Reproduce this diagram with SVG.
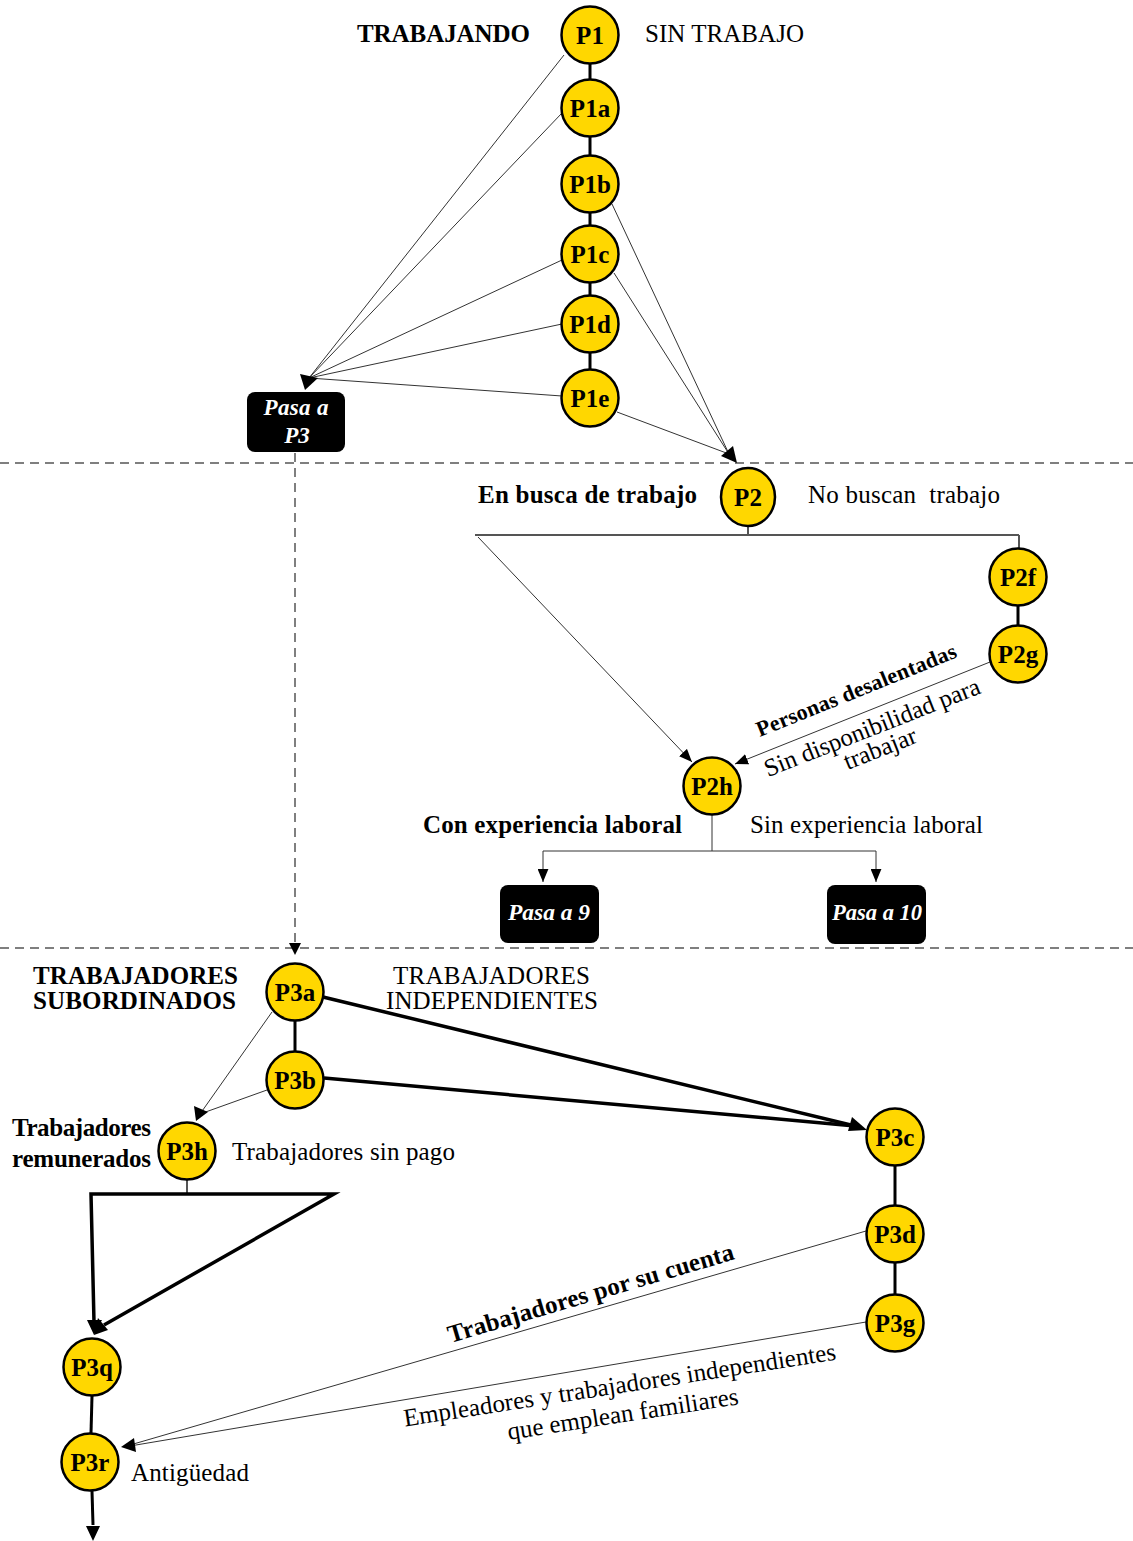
<svg xmlns="http://www.w3.org/2000/svg" width="1133" height="1541" viewBox="0 0 1133 1541">
<style>
text{font-family:"Liberation Serif","Times New Roman",serif;fill:#000}
.n circle,.n ellipse{fill:#FFD700;stroke:#000;stroke-width:2.5}
.n text{font-size:25px;font-weight:bold;text-anchor:middle}
.b{font-weight:bold}
.t{font-size:25px}
.box rect{fill:#000}
.box text{fill:#fff;font-size:23px;font-weight:bold;font-style:italic;text-anchor:middle}
.thin{stroke:#333;stroke-width:1;fill:none}
.gray{stroke:#555;stroke-width:2;fill:none}
.chain{stroke:#000;stroke-width:3;fill:none}
.thick{stroke:#000;stroke-width:3.5;fill:none}
.dash{stroke:#555;stroke-width:1.5;stroke-dasharray:9 6;fill:none}
.ah{fill:#000}
</style>
<defs>
<marker id="arr" viewBox="0 0 12 10" refX="12" refY="5" markerWidth="13" markerHeight="11" markerUnits="userSpaceOnUse" orient="auto"><path d="M0,0 L12,5 L0,10 z" fill="#000"/></marker>
</defs>

<g id="connectors">
<line class="dash" x1="0" y1="463" x2="1133" y2="463"/>
<line class="dash" x1="0" y1="948" x2="1133" y2="948"/>
<line class="chain" x1="590" y1="64" x2="590" y2="80"/>
<line class="chain" x1="590" y1="137" x2="590" y2="156"/>
<line class="chain" x1="590" y1="213" x2="590" y2="226"/>
<line class="chain" x1="590" y1="283" x2="590" y2="296"/>
<line class="chain" x1="590" y1="353" x2="590" y2="370"/>
<line class="thin" x1="564" y1="55" x2="309" y2="378"/>
<line class="thin" x1="562" y1="113" x2="309" y2="378"/>
<line class="thin" x1="562" y1="260" x2="309" y2="378"/>
<line class="thin" x1="562" y1="324" x2="309" y2="378"/>
<line class="thin" x1="562" y1="396" x2="309" y2="378"/>
<polygon class="ah" points="305,390 300,374 318,378"/>
<line class="thin" x1="612" y1="204" x2="729" y2="454"/>
<line class="thin" x1="614" y1="273" x2="729" y2="454"/>
<line class="thin" x1="617" y1="412" x2="729" y2="454"/>
<polygon class="ah" points="737,463 721,456 733,446"/>
<line class="dash" x1="295" y1="453" x2="295" y2="945"/>
<polygon class="ah" points="295,955 289,943 301,943"/>
<line class="gray" x1="748" y1="526" x2="748" y2="535"/>
<line class="gray" x1="475" y1="535" x2="1019" y2="535"/>
<line class="gray" x1="1019" y1="535" x2="1019" y2="548"/>
<line class="thin" x1="478" y1="537" x2="692" y2="762" marker-end="url(#arr)"/>
<line class="chain" x1="1018" y1="606" x2="1018" y2="625"/>
<line class="thin" x1="990" y1="662" x2="735" y2="764" marker-end="url(#arr)"/>
<line class="thin" x1="712" y1="815" x2="712" y2="851"/>
<line class="thin" x1="543" y1="851" x2="876" y2="851"/>
<line class="thin" x1="543" y1="851" x2="543" y2="882" marker-end="url(#arr)"/>
<line class="thin" x1="876" y1="851" x2="876" y2="882" marker-end="url(#arr)"/>
<line class="chain" x1="295" y1="1021" x2="295" y2="1051"/>
<line class="thin" x1="272" y1="1012" x2="200" y2="1114"/>
<line class="thin" x1="267" y1="1090" x2="200" y2="1114"/>
<polygon class="ah" points="196,1121 194,1106 208,1112"/>
<line class="thick" x1="323" y1="997" x2="855" y2="1126"/>
<line class="thick" x1="324" y1="1078" x2="855" y2="1126"/>
<polygon class="ah" points="867,1130 848,1131 852,1117"/>
<line class="chain" x1="895" y1="1166" x2="895" y2="1205"/>
<line class="chain" x1="895" y1="1263" x2="895" y2="1294"/>
<line class="gray" x1="187" y1="1180" x2="187" y2="1194"/>
<polyline class="thick" points="94,1322 91,1194 334,1194 104,1325"/>
<polygon class="ah" points="94,1335 87,1320 102,1320"/>
<polygon class="ah" points="94,1335 98,1318 108,1330"/>
<line class="chain" x1="92" y1="1396" x2="91" y2="1433"/>
<line class="chain" x1="92" y1="1491" x2="93" y2="1525"/>
<polygon class="ah" points="93,1541 86,1526 100,1526"/>
<line class="thin" x1="866" y1="1231" x2="130" y2="1445"/>
<line class="thin" x1="866" y1="1322" x2="130" y2="1446"/>
<polygon class="ah" points="121,1447 134,1438 136,1452"/>
</g>

<g id="P1" class="n"><circle cx="590" cy="35" r="28.5"/><text x="590" y="44">P1</text></g>
<g id="P1a" class="n"><circle cx="590" cy="108" r="28.5"/><text x="590" y="117">P1a</text></g>
<g id="P1b" class="n"><circle cx="590" cy="184" r="28.5"/><text x="590" y="193">P1b</text></g>
<g id="P1c" class="n"><circle cx="590" cy="254" r="28.5"/><text x="590" y="263">P1c</text></g>
<g id="P1d" class="n"><circle cx="590" cy="324" r="28.5"/><text x="590" y="333">P1d</text></g>
<g id="P1e" class="n"><circle cx="590" cy="398" r="28.5"/><text x="590" y="407">P1e</text></g>
<g id="P2" class="n"><ellipse cx="748" cy="497" rx="27" ry="29"/><text x="748" y="506">P2</text></g>
<g id="P2f" class="n"><circle cx="1018" cy="577" r="28.5"/><text x="1018" y="586">P2f</text></g>
<g id="P2g" class="n"><circle cx="1018" cy="654" r="28.5"/><text x="1018" y="663">P2g</text></g>
<g id="P2h" class="n"><circle cx="712" cy="786" r="28.5"/><text x="712" y="795">P2h</text></g>
<g id="P3a" class="n"><circle cx="295" cy="992" r="28.5"/><text x="295" y="1001">P3a</text></g>
<g id="P3b" class="n"><circle cx="295" cy="1080" r="28.5"/><text x="295" y="1089">P3b</text></g>
<g id="P3h" class="n"><circle cx="187" cy="1151" r="28.5"/><text x="187" y="1160">P3h</text></g>
<g id="P3c" class="n"><circle cx="895" cy="1137" r="28.5"/><text x="895" y="1146">P3c</text></g>
<g id="P3d" class="n"><circle cx="895" cy="1234" r="28.5"/><text x="895" y="1243">P3d</text></g>
<g id="P3g" class="n"><circle cx="895" cy="1323" r="28.5"/><text x="895" y="1332">P3g</text></g>
<g id="P3q" class="n"><circle cx="92" cy="1367" r="28.5"/><text x="92" y="1376">P3q</text></g>
<g id="P3r" class="n"><circle cx="90" cy="1462" r="28.5"/><text x="90" y="1471">P3r</text></g>

<g id="pasaP3" class="box"><rect x="247" y="392" width="98" height="60" rx="8"/><text x="296" y="415" textLength="65">Pasa a</text><text x="297" y="443">P3</text></g>
<g id="pasa9" class="box"><rect x="500" y="885" width="99" height="58" rx="8"/><text x="549" y="920" textLength="82" lengthAdjust="spacingAndGlyphs">Pasa a 9</text></g>
<g id="pasa10" class="box"><rect x="827" y="885" width="99" height="59" rx="8"/><text x="877" y="920" textLength="90" lengthAdjust="spacingAndGlyphs">Pasa a 10</text></g>

<g id="labels">
<text class="t b" x="357" y="42" textLength="173">TRABAJANDO</text>
<text class="t" x="645" y="42" textLength="159">SIN TRABAJO</text>
<text class="t b" x="478" y="503" textLength="219">En busca de trabajo</text>
<text class="t" x="808" y="503" textLength="192" xml:space="preserve">No buscan  trabajo</text>
<text class="b" font-size="22" text-anchor="middle" transform="translate(859,697) rotate(-22)" textLength="214">Personas desalentadas</text>
<text class="t" text-anchor="middle" transform="translate(875,735) rotate(-21.5)" textLength="230">Sin disponibilidad para</text>
<text class="t" text-anchor="middle" transform="translate(883,756) rotate(-21.5)">trabajar</text>
<text class="t b" x="423" y="833" textLength="259">Con experiencia laboral</text>
<text class="t" x="750" y="833" textLength="233">Sin experiencia laboral</text>
<text class="t b" x="33" y="984" textLength="205">TRABAJADORES</text>
<text class="t b" x="33" y="1009" textLength="203">SUBORDINADOS</text>
<text class="t" x="393" y="984" textLength="197">TRABAJADORES</text>
<text class="t" x="386" y="1009" textLength="212">INDEPENDIENTES</text>
<text class="t b" x="12" y="1136" textLength="139">Trabajadores</text>
<text class="t b" x="12" y="1167" textLength="139">remunerados</text>
<text class="t" x="232" y="1160" textLength="223">Trabajadores sin pago</text>
<text class="t b" text-anchor="middle" transform="translate(593,1301) rotate(-16.4)" textLength="297">Trabajadores por su cuenta</text>
<text class="t" text-anchor="middle" transform="translate(621,1393) rotate(-8.8)" textLength="437">Empleadores y trabajadores independientes</text>
<text class="t" text-anchor="middle" transform="translate(624,1422) rotate(-8.8)">que emplean familiares</text>
<text class="t" x="131" y="1481" textLength="118">Antigüedad</text>
</g>
</svg>
